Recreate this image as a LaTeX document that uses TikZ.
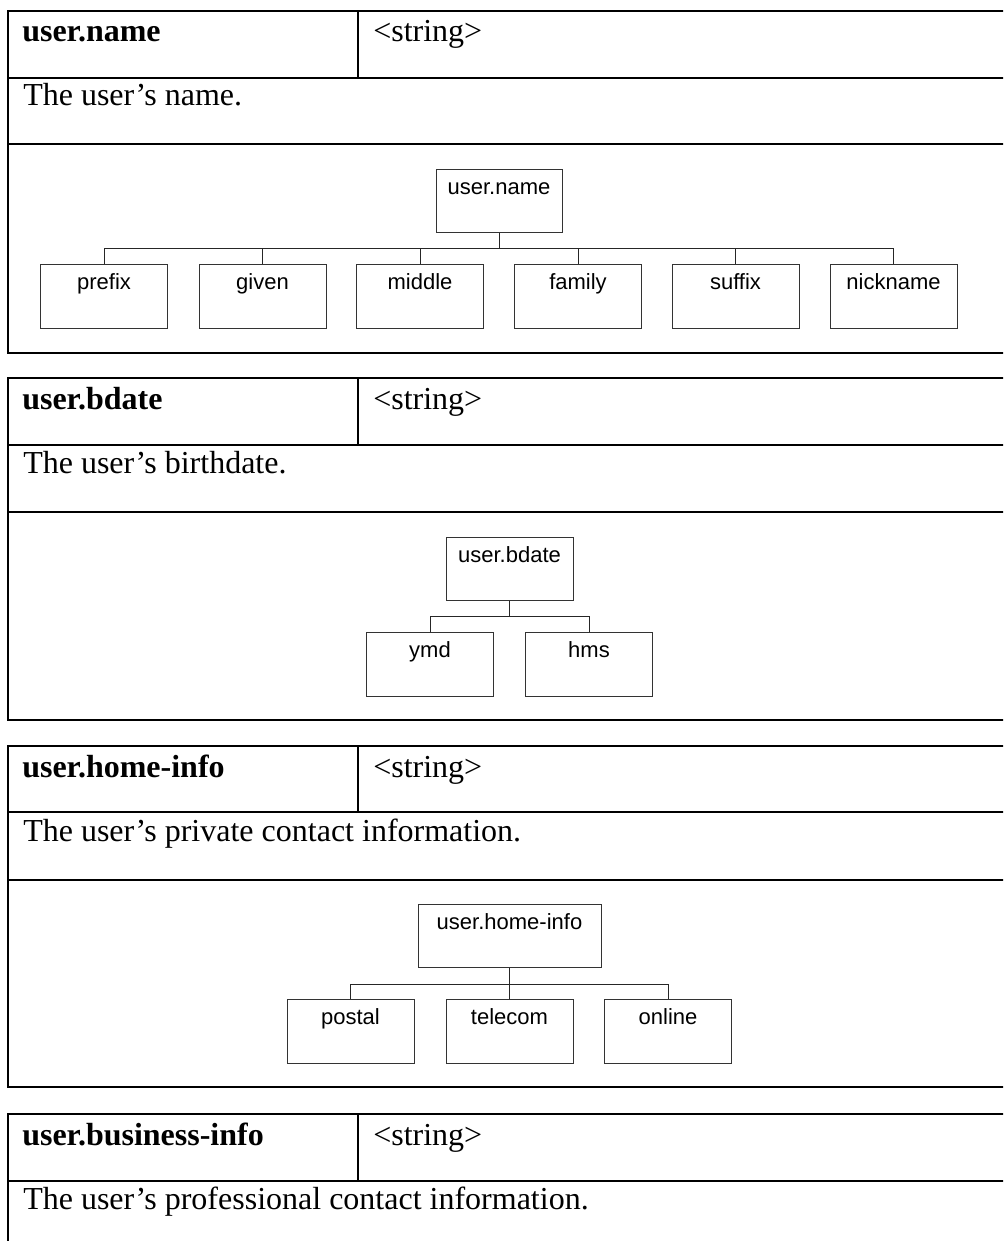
\documentclass[tikz,border=0pt]{standalone}
\usepackage{fontspec}
\setmainfont{Liberation Serif}
\newfontfamily\arialf{Liberation Sans}
\begin{document}
\begin{tikzpicture}[x=0.75pt,y=-0.75pt,
  tbl/.style={line width=1.5pt,draw=black},
  hdr/.style={anchor=base west,inner sep=0pt,font=\fontsize{24pt}{28pt}\selectfont\bfseries},
  txt/.style={anchor=base west,inner sep=0pt,font=\fontsize{24pt}{28pt}\selectfont},
  rootbox/.style={draw=black!80,line width=0.75pt,anchor=north,inner sep=0pt,
     minimum height=47.25pt,text height=18.75pt,text depth=28.5pt,
     font=\arialf\fontsize{16.5pt}{19pt}\selectfont},
  kidbox/.style={draw=black!80,line width=0.75pt,anchor=north,inner sep=0pt,
     minimum width=95.25pt,minimum height=48pt,text height=18.75pt,text depth=29.25pt,
     font=\arialf\fontsize{16.5pt}{19pt}\selectfont},
  conn/.style={draw=black!85,line width=0.75pt}]
\useasboundingbox (0,0) rectangle (1003,1241);
\clip (0,0) rectangle (1003,1241);

% ---------- table 1: user.name (top 11)
\draw[tbl] (7.5,11) rectangle (1015,353);
\draw[tbl] (7.5,78) -- (1015,78);
\draw[tbl] (7.5,144) -- (1015,144);
\draw[tbl] (358,11) -- (358,78);
\node[hdr] (h1) at (22,42) {user.name};
\node[txt] (s1) at (373,42) {<string>};
\node[txt] (d1) at (23,106) {The user’s name.};
\node[rootbox,minimum width=94.5pt] (r1) at (499,169) {user.name};
\coordinate (b1) at (499,249);
\node[kidbox] (prefix) at (104,264) {prefix};
\node[kidbox] (given) at (262.5,264) {given};
\node[kidbox] (middle) at (420,264) {middle};
\node[kidbox] (family) at (578,264) {family};
\node[kidbox] (suffix) at (735.5,264) {suffix};
\node[kidbox] (nick) at (893.5,264) {nickname};
\draw[conn] (r1.south) -- (b1);
\foreach \c in {prefix,given,middle,family,suffix,nick} \draw[conn] (b1) -| (\c.north);

% ---------- table 2: user.bdate (top 378)
\draw[tbl] (7.5,378) rectangle (1015,720);
\draw[tbl] (7.5,445) -- (1015,445);
\draw[tbl] (7.5,512) -- (1015,512);
\draw[tbl] (358,378) -- (358,445);
\node[hdr] (h2) at (22,409) {user.bdate};
\node[txt] (s2) at (373,409) {<string>};
\node[txt] (d2) at (23,473) {The user’s birthdate.};
\node[rootbox,minimum width=95.25pt] (r2) at (509.5,537) {user.bdate};
\coordinate (b2) at (509.5,616);
\node[kidbox] (ymd) at (430,632) {ymd};
\node[kidbox] (hms) at (589,632) {hms};
\draw[conn] (r2.south) -- (b2);
\foreach \c in {ymd,hms} \draw[conn] (b2) -| (\c.north);

% ---------- table 3: user.home-info (top 746)
\draw[tbl] (7.5,746) rectangle (1015,1087);
\draw[tbl] (7.5,812) -- (1015,812);
\draw[tbl] (7.5,880) -- (1015,880);
\draw[tbl] (358,746) -- (358,812);
\node[hdr] (h3) at (22,777) {user.home-info};
\node[txt] (s3) at (373,777) {<string>};
\node[txt] (d3) at (23,841) {The user’s private contact information.};
\node[rootbox,minimum width=137.25pt] (r3) at (509.5,904) {user.home-info};
\coordinate (b3) at (509.5,984);
\node[kidbox] (postal) at (350.5,999) {postal};
\node[kidbox] (telecom) at (509.5,999) {telecom};
\node[kidbox] (online) at (668,999) {online};
\draw[conn] (r3.south) -- (b3);
\foreach \c in {postal,telecom,online} \draw[conn] (b3) -| (\c.north);

% ---------- table 4: user.business-info (top 1114)
\draw[tbl] (1015,1114) -- (7.5,1114) -- (7.5,1260);
\draw[tbl] (7.5,1181) -- (1015,1181);
\draw[tbl] (358,1114) -- (358,1181);
\node[hdr] (h4) at (22,1145) {user.business-info};
\node[txt] (s4) at (373,1145) {<string>};
\node[txt] (d4) at (23,1209) {The user’s professional contact information.};
\end{tikzpicture}
\end{document}
